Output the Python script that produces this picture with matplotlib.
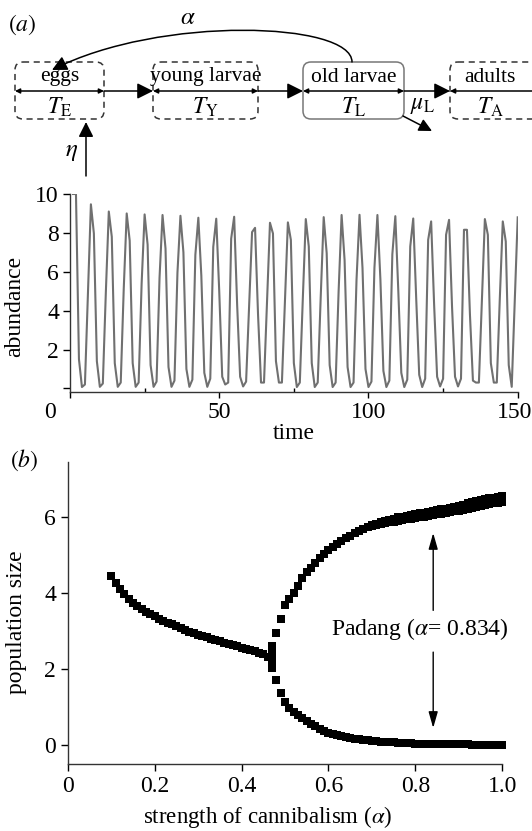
import numpy as np
import matplotlib
matplotlib.use('Agg')
import matplotlib.pyplot as plt
import matplotlib.transforms as mtransforms
from matplotlib.patches import FancyBboxPatch, FancyArrowPatch, ArrowStyle
from matplotlib.path import Path

plt.rcParams['font.family'] = ['Liberation Serif', 'DejaVu Serif']
plt.rcParams['mathtext.fontset'] = 'stix'
plt.rcParams['font.size'] = 17

# ---- data: panel (a) time series ----
time = list(range(1, 151))
abundance = [
    10, 10, 1.5, 0.07, 0.2, 4.8, 9.47, 7.97, 1.4, 0.08,
    0.25, 4.9, 9.1, 7.8, 1.3, 0.08, 0.3, 5.1, 9.0, 7.6,
    1.3, 0.08, 0.3, 5.4, 8.95, 7.4, 1.2, 0.08, 0.35, 5.7,
    8.92, 7.2, 1.1, 0.08, 0.4, 5.95, 8.88, 7.0, 1.0, 0.08,
    0.45, 6.87, 8.78, 5.8, 0.8, 0.08, 0.5, 7.28, 8.73, 5.0,
    0.6, 0.2, 0.3, 7.7, 8.83, 4.3, 0.6, 0.1, 0.35, 4.2,
    8.04, 8.26, 3.8, 0.3, 0.3, 4.4, 8.52, 7.97, 1.4, 0.3,
    0.3, 4.4, 8.54, 7.64, 1.3, 0.07, 0.3, 4.6, 8.71, 7.3,
    1.3, 0.07, 0.3, 4.7, 8.81, 6.96, 1.2, 0.07, 0.3, 5.0,
    8.92, 6.6, 1.1, 0.07, 0.3, 5.6, 8.93, 6.2, 1.0, 0.07,
    0.35, 6.2, 8.92, 5.6, 0.9, 0.07, 0.4, 6.9, 8.86, 5.0,
    0.8, 0.07, 0.45, 7.3, 8.74, 4.6, 0.7, 0.07, 0.5, 7.64,
    8.59, 4.3, 0.6, 0.1, 0.5, 7.9, 8.67, 4.2, 0.6, 0.1,
    0.5, 8.16, 8.16, 3.8, 0.4, 0.3, 0.3, 4.5, 8.71, 7.9,
    1.3, 0.3, 0.3, 4.6, 8.59, 7.56, 1.2, 0.08, 4.4, 8.8,
]

# ---- data: panel (b) bifurcation diagram ----
alpha_single = np.round(np.arange(0.10, 0.465, 0.01), 2)
pop_single = [4.45, 4.28, 4.12, 3.98, 3.86, 3.75, 3.66, 3.58, 3.51, 3.45,
              3.39, 3.33, 3.28, 3.23, 3.18, 3.13, 3.08, 3.03, 2.99, 2.95,
              2.91, 2.88, 2.84, 2.80, 2.77, 2.74, 2.70, 2.67, 2.64, 2.61,
              2.57, 2.54, 2.50, 2.47, 2.43, 2.39, 2.33]
alpha_split = [0.47, 0.47]
pop_split = [2.25, 2.42]

alpha_cycle = np.round(np.arange(0.47, 1.005, 0.01), 2)
pop_cycle_high = [2.6, 2.95, 3.32, 3.69, 3.85, 4.0, 4.2, 4.4, 4.55, 4.68,
                  4.8, 4.92, 5.03, 5.13, 5.22, 5.3, 5.38, 5.45, 5.52, 5.58,
                  5.64, 5.7, 5.75, 5.8, 5.84, 5.88, 5.91, 5.94, 5.97, 6.0,
                  6.02, 6.05, 6.07, 6.09, 6.11, 6.13, 6.15, 6.17, 6.19, 6.21,
                  6.23, 6.26, 6.28, 6.31, 6.34, 6.37, 6.4, 6.43, 6.46, 6.48,
                  6.5, 6.52, 6.54, 6.56]
pop_cycle_low = [2.03, 1.71, 1.38, 1.14, 0.98, 0.88, 0.79, 0.71, 0.63, 0.56,
                 0.49, 0.43, 0.38, 0.33, 0.29, 0.26, 0.23, 0.20, 0.18, 0.16,
                 0.15, 0.13, 0.12, 0.11, 0.10, 0.09, 0.08, 0.08, 0.07, 0.06,
                 0.06, 0.05, 0.05, 0.04, 0.04, 0.04, 0.03, 0.03, 0.03, 0.03,
                 0.02, 0.02, 0.02, 0.02, 0.02, 0.02, 0.01, 0.01, 0.01, 0.01,
                 0.01, 0.01, 0.01, 0.01]
alpha_band = np.round(np.arange(0.70, 1.005, 0.01), 2)
pop_band = [5.77, 5.8, 5.83, 5.85, 5.87, 5.89, 5.91, 5.93, 5.95, 5.97,
            5.98, 6.0, 6.02, 6.04, 6.06, 6.08, 6.1, 6.12, 6.14, 6.16,
            6.18, 6.2, 6.22, 6.25, 6.28, 6.31, 6.33, 6.35, 6.37, 6.39, 6.41]

padang_alpha = 0.834

W, H = 532, 831
fig = plt.figure(figsize=(W / 100, H / 100), dpi=100)

# ---- life-cycle diagram, drawn in pixel units ----
axd = fig.add_axes([0, 1 - 180 / H, 1, 180 / H])
axd.set_xlim(0, W)
axd.set_ylim(180, 0)
axd.axis('off')

boxes = [(15, 89, 'eggs', r'$T_{\mathrm{E}}$', 'dash'),
         (153, 105, 'young larvae', r'$T_{\mathrm{Y}}$', 'dash'),
         (303, 101, 'old larvae', r'$T_{\mathrm{L}}$', 'solid'),
         (450, 100, 'adults', r'$T_{\mathrm{A}}$', 'dash')]
for x0, w, name, tlab, style in boxes:
    if style == 'dash':
        p = FancyBboxPatch((x0, 62), w, 57, boxstyle='round,pad=0,rounding_size=8',
                           fill=False, ec='#333333', lw=1.1, ls=(0, (4, 3)))
    else:
        p = FancyBboxPatch((x0, 62), w, 57, boxstyle='round,pad=0,rounding_size=8',
                           fill=False, ec='#777777', lw=1.1)
    axd.add_patch(p)
    cx = x0 + 45 if name == 'eggs' else (x0 + 40 if name == 'adults' else x0 + w / 2)
    axd.text(cx, 77, name, ha='center', va='center', fontsize=15.5)
    axd.text(cx, 107, tlab, ha='center', va='center', fontsize=17)
    axd.add_patch(FancyArrowPatch((x0, 91), (x0 + w, 91), arrowstyle='<|-|>',
                                  mutation_scale=7, lw=1.1, color='black',
                                  shrinkA=0, shrinkB=0))

big = ArrowStyle('-|>', head_length=0.6, head_width=0.3)
for xa, xb in [(104, 153), (258, 303), (404, 450)]:
    axd.add_patch(FancyArrowPatch((xa, 91), (xb, 91), arrowstyle=big,
                                  mutation_scale=16, lw=1.1, color='black',
                                  shrinkA=0, shrinkB=0))

arc = Path([(352, 62), (352, 22), (160, 15), (52, 70)],
           [Path.MOVETO, Path.CURVE4, Path.CURVE4, Path.CURVE4])
axd.add_patch(FancyArrowPatch(path=arc, arrowstyle=big, mutation_scale=15,
                              lw=1.1, color='black'))
axd.text(188, 18, r'$\alpha$', ha='center', va='center', fontsize=18)

axd.add_patch(FancyArrowPatch((403, 116), (432, 131), arrowstyle=big,
                              mutation_scale=13, lw=1.1, color='black',
                              shrinkA=0, shrinkB=0))
axd.text(423, 106, r'$\mu_{\mathrm{L}}$', ha='center', va='center', fontsize=17)

axd.add_patch(FancyArrowPatch((86, 176), (86, 122), arrowstyle=big,
                              mutation_scale=15, lw=1.1, color='black',
                              shrinkA=0, shrinkB=0))
axd.text(72, 152, r'$\eta$', ha='center', va='center', fontsize=18)

fig.text(22 / W, 1 - 25 / H, r'$(\mathit{a})$', ha='center', va='center', fontsize=17)
fig.text(24 / W, 1 - 460 / H, r'$(\mathit{b})$', ha='center', va='center', fontsize=17)

# ---- panel (a): abundance over time ----
ax1 = fig.add_axes([70 / W, 1 - 391.7 / H, 447.7 / W, 197.7 / H])
ax1.plot(time, abundance, color='#707070', lw=1.5)
ax1.set_xlim(0, 150)
ax1.set_ylim(-0.17, 10)
ax1.set_xticks([0, 50, 100, 150])
ax1.set_xticks([25, 75, 125], minor=True)
ax1.set_yticks([0, 2, 4, 6, 8, 10])
ax1.set_yticklabels(['', '2', '4', '6', '8', '10'])
ax1.tick_params(axis='x', which='major', direction='out', length=4, width=1)
ax1.tick_params(axis='x', which='minor', direction='in', length=3, width=1)
ax1.tick_params(axis='y', direction='out', length=5, width=1, pad=3)
for s in ['top', 'right']:
    ax1.spines[s].set_visible(False)
for s in ['left', 'bottom']:
    ax1.spines[s].set_linewidth(1.0)
    ax1.spines[s].set_color('#333333')
ax1.set_xlabel('time', labelpad=0)
ax1.set_ylabel('abundance')
ax1.yaxis.set_label_coords(-0.1, 0.43)
xlabs = ax1.get_xticklabels()
xlabs[0].set_transform(xlabs[0].get_transform() +
                       mtransforms.ScaledTranslation(-0.2, 0, fig.dpi_scale_trans))
xlabs[-1].set_transform(xlabs[-1].get_transform() +
                        mtransforms.ScaledTranslation(-0.03, 0, fig.dpi_scale_trans))

# ---- panel (b): bifurcation diagram ----
ax2 = fig.add_axes([67.7 / W, 1 - 764 / H, 434.6 / W, 302.3 / H])
mk = dict(ls='none', marker='s', ms=5.3, mew=0, color='black', clip_on=False)
ax2.plot(alpha_single, pop_single, **mk)
ax2.plot(alpha_split, pop_split, **mk)
ax2.plot(alpha_cycle, pop_cycle_high, **mk)
ax2.plot(alpha_band, pop_band, **mk)
ax2.plot(alpha_cycle, pop_cycle_low, **mk)
ax2.set_xlim(0, 1.0)
ax2.set_ylim(-0.5, 7.47)
ax2.set_xticks([0, 0.2, 0.4, 0.6, 0.8, 1.0])
ax2.set_xticklabels(['0', '0.2', '0.4', '0.6', '0.8', '1.0'])
ax2.set_yticks([0, 2, 4, 6])
ax2.tick_params(axis='both', direction='out', length=5, width=1)
for s in ['top', 'right']:
    ax2.spines[s].set_visible(False)
for s in ['left', 'bottom']:
    ax2.spines[s].set_linewidth(1.0)
    ax2.spines[s].set_color('#333333')
ax2.set_xlabel(r'strength of cannibalism ($\alpha$)', fontsize=16.5)
ax2.xaxis.set_label_coords(0.46, -0.132)
ax2.set_ylabel('population size')
ax2.yaxis.set_label_coords(-0.094, 0.47)

xa = padang_alpha + 0.007
ax2.text(0.81, 3.06, r'Padang ($\alpha$= 0.834)', ha='center', va='center', fontsize=17)
thin = ArrowStyle('-|>', head_length=0.7, head_width=0.2)
ax2.annotate('', xy=(xa, 5.59), xytext=(xa, 3.55),
             arrowprops=dict(arrowstyle=thin, mutation_scale=14, lw=1.0, color='black',
                             shrinkA=0, shrinkB=0))
ax2.annotate('', xy=(xa, 0.45), xytext=(xa, 2.45),
             arrowprops=dict(arrowstyle=thin, mutation_scale=14, lw=1.0, color='black',
                             shrinkA=0, shrinkB=0))

fig.savefig('out.png', dpi=100)
